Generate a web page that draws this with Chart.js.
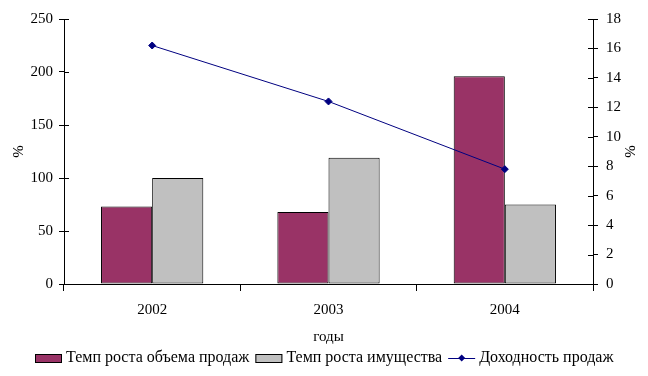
<!DOCTYPE html>
<html>
<head>
<meta charset="utf-8">
<script src="https://cdn.jsdelivr.net/npm/chart.js@4"></script>
<style>
  html, body { margin: 0; padding: 0; background: #fff; }
  #wrap { width: 648px; height: 376px; }
</style>
</head>
<body>
<div id="wrap"><canvas id="chart"></canvas></div>
<script>
const years = ['2002', '2003', '2004'];
const salesGrowth = [73, 68, 196];     // Темп роста объема продаж, %
const assetGrowth = [100, 119, 75];    // Темп роста имущества, %
const profitability = [16.2, 12.4, 7.8]; // Доходность продаж, %
const leftMax = 250, leftStep = 50;
const rightMax = 18, rightStep = 2;

const FONT = 'Liberation Serif';

// legend drawn by hand so bars get boxes and the line gets line + diamond
const bottomLegend = {
  id: 'bottomLegend',
  afterDraw(chart) {
    const ctx = chart.ctx;
    const y = 358;
    ctx.save();
    ctx.font = '16px "' + FONT + '"';
    ctx.textBaseline = 'middle';
    const items = chart.data.datasets.map(ds => ({
      text: ds.label, type: ds.type || 'bar',
      fill: ds.backgroundColor, stroke: ds.borderColor
    }));
    const sym = 27, gap = 4, sep = 6;
    let total = 0;
    items.forEach((it, i) => {
      total += sym + gap + ctx.measureText(it.text).width + (i ? sep : 0);
    });
    let x = Math.round(chart.width / 2 - total / 2);
    items.forEach((it, i) => {
      if (i) x += sep;
      if (it.type === 'line') {
        ctx.strokeStyle = it.stroke;
        ctx.lineWidth = 1;
        ctx.beginPath();
        ctx.moveTo(x, y + 0.5); ctx.lineTo(x + sym, y + 0.5);
        ctx.stroke();
        ctx.fillStyle = it.stroke;
        ctx.beginPath();
        const cx = x + sym / 2;
        ctx.moveTo(cx, y - 3.5); ctx.lineTo(cx + 3.5, y);
        ctx.lineTo(cx, y + 3.5); ctx.lineTo(cx - 3.5, y);
        ctx.closePath(); ctx.fill();
      } else {
        ctx.fillStyle = it.fill;
        ctx.fillRect(x, y - 4, sym, 9);
        ctx.strokeStyle = '#000';
        ctx.lineWidth = 1;
        ctx.strokeRect(x + 0.5, y - 3.5, sym - 1, 8);
      }
      x += sym + gap;
      ctx.fillStyle = '#000';
      ctx.fillText(it.text, x, y);
      x += ctx.measureText(it.text).width;
    });
    ctx.restore();
  }
};

// value axes have tick marks crossing the axis line: add the inner half
const innerTicks = {
  id: 'innerTicks',
  afterDraw(chart) {
    const ctx = chart.ctx;
    ctx.save();
    ctx.strokeStyle = '#000';
    ctx.lineWidth = 1;
    ['y', 'y2'].forEach(id => {
      const s = chart.scales[id];
      const ax = id === 'y' ? s.right : s.left;
      const dir = id === 'y' ? 1 : -1;
      s.ticks.forEach(t => {
        const py = Math.round(s.getPixelForValue(t.value)) + 0.5;
        ctx.beginPath();
        ctx.moveTo(ax, py);
        ctx.lineTo(ax + dir * 5, py);
        ctx.stroke();
      });
    });
    ctx.restore();
  }
};

Chart.defaults.font.family = FONT;
Chart.defaults.font.size = 15;
Chart.defaults.color = '#000';

new Chart(document.getElementById('chart'), {
  type: 'bar',
  data: {
    labels: years,
    datasets: [
      {
        label: 'Темп роста объема продаж',
        data: salesGrowth,
        backgroundColor: '#993366',
        borderColor: '#000',
        borderWidth: 1,
        borderSkipped: false,
        yAxisID: 'y',
        order: 2
      },
      {
        label: 'Темп роста имущества',
        data: assetGrowth,
        backgroundColor: '#c0c0c0',
        borderColor: '#000',
        borderWidth: 1,
        borderSkipped: false,
        yAxisID: 'y',
        order: 2
      },
      {
        type: 'line',
        label: 'Доходность продаж',
        data: profitability,
        borderColor: '#000080',
        backgroundColor: '#000080',
        borderWidth: 1,
        pointStyle: 'rectRot',
        pointRadius: 3.5,
        yAxisID: 'y2',
        order: 1
      }
    ]
  },
  options: {
    responsive: true,
    maintainAspectRatio: false,
    animation: false,
    layout: { padding: { top: 19, bottom: 28, left: 0, right: 0 } },
    datasets: {
      bar: { categoryPercentage: 0.58, barPercentage: 1.0 }
    },
    plugins: {
      legend: { display: false },
      tooltip: { enabled: false }
    },
    scales: {
      x: {
        grid: { drawOnChartArea: false, color: '#000', tickLength: 7, offset: true },
        border: { color: '#000' },
        ticks: { padding: 10 },
        title: { display: true, text: 'годы', padding: { top: 4, bottom: 2 } },
        afterFit(scale) { scale.height = 64; }
      },
      y: {
        position: 'left',
        min: 0, max: leftMax,
        grid: { drawOnChartArea: false, color: '#000', tickLength: 5 },
        border: { color: '#000' },
        ticks: { stepSize: leftStep, padding: 6 },
        title: { display: true, text: '%', padding: { top: 10, bottom: 4 } },
        afterFit(scale) { scale.width = 64; }
      },
      y2: {
        position: 'right',
        min: 0, max: rightMax,
        grid: { drawOnChartArea: false, color: '#000', tickLength: 5 },
        border: { color: '#000' },
        ticks: { stepSize: rightStep, padding: 8 },
        title: { display: true, text: '%', padding: { top: 10, bottom: 4 } },
        afterFit(scale) { scale.width = 55; }
      }
    }
  },
  plugins: [bottomLegend, innerTicks]
});
</script>
</body>
</html>
